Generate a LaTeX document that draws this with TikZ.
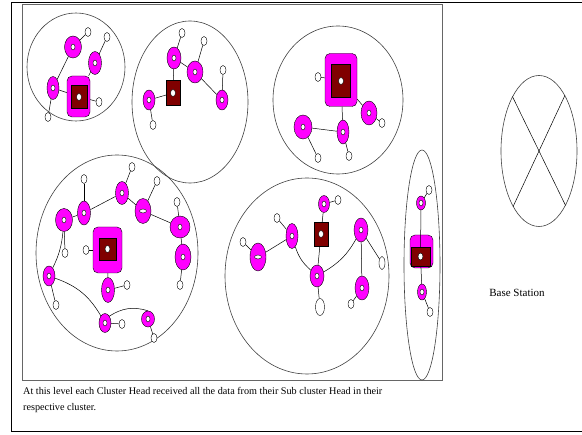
\documentclass[tikz,border=0pt]{standalone}
\usepackage{fontspec}
\setmainfont{Liberation Serif}
\usetikzlibrary{shapes.geometric}

\definecolor{chpink}{RGB}{255,0,255}
\definecolor{chred}{RGB}{128,0,0}

\tikzset{
  zone/.style={ellipse, draw=black!75, line width=0.6pt, inner sep=0pt},
  sensor/.style={ellipse, draw, fill=white, line width=0.4pt, inner sep=0pt, minimum width=6pt, minimum height=9pt},
  sub/.style 2 args={ellipse, draw, fill=chpink, line width=0.4pt, inner sep=0pt,
    minimum width=#1pt, minimum height=#2pt,
    path picture={\draw[fill=white] (path picture bounding box.center) ellipse (2pt and 3pt);}},
  subh/.style 2 args={ellipse, draw, fill=chpink, line width=0.4pt, inner sep=0pt,
    minimum width=#1pt, minimum height=#2pt,
    path picture={\draw[fill=white] (path picture bounding box.center) ellipse (3.5pt and 2pt);}},
  pad/.style 2 args={rectangle, rounded corners=5pt, draw, fill=chpink, line width=0.4pt, inner sep=0pt,
    minimum width=#1pt, minimum height=#2pt},
  core/.style 2 args={rectangle, draw, fill=chred, line width=0.4pt, inner sep=0pt,
    minimum width=#1pt, minimum height=#2pt,
    path picture={\draw[fill=white] (path picture bounding box.center) ellipse (2.5pt and 3.5pt);}},
  link/.style={draw, line width=0.5pt},
}

\begin{document}
\begin{tikzpicture}[x=1pt, y=-1pt]
   \useasboundingbox (0,0) rectangle (582,435);

   % frames
   \draw[line width=1pt] (582,3) -- (11,3) -- (11,432) -- (582,432);
   \draw[black!60, line width=1pt] (22,5) rectangle (442,381);

   % cluster 1
   \node[zone, minimum width=98pt, minimum height=108pt] (z1) at (76,67) {};
   \node[pad={23}{41}] (ch1) at (78.5,96.5) {};
   \node[sub={17}{22}] (c1a) at (73,47) {};
   \node[sub={13}{23}] (c1b) at (95,63) {};
   \node[sub={12}{23}] (c1c) at (53,88) {};
   \node[sensor] (s1a) at (88,32) {};
   \node[sensor] (s1b) at (107,37) {};
   \node[sensor] (s1c) at (99,102) {};
   \node[sensor] (s1d) at (48,117) {};
   \path[link] (c1a) edge (s1a) (c1a) edge (c1c) (c1b) edge (s1b) (c1b) edge (ch1)
               (c1c) edge (ch1) (c1c) edge (s1d) (ch1) edge (s1c);
   \node[core={16}{23}] (ch1c) at (79,97) {};

   % cluster 2
   \node[zone, minimum width=116pt, minimum height=162pt] (z2) at (190,102) {};
   \node[core={14}{25}] (ch2) at (173,93) {};
   \node[sub={14}{22}] (c2a) at (174,58) {};
   \node[sub={16}{22}] (c2b) at (195,72) {};
   \node[sub={12}{20}] (c2c) at (149,100) {};
   \node[sub={12}{20}] (c2d) at (222,100) {};
   \node[sensor] (s2a) at (182,33) {};
   \node[sensor] (s2b) at (204,41) {};
   \node[sensor] (s2c) at (223,70) {};
   \node[sensor] (s2d) at (153,125) {};
   \path[link] (c2a) edge (s2a) (c2a) edge (ch2) (c2a) edge (c2b) (c2b) edge (s2b)
               (c2b) edge (c2d) (c2c) edge (ch2) (c2c) edge (s2d) (c2d) edge (s2c);

   % cluster 3
   \node[zone, minimum width=130pt, minimum height=148pt] (z3) at (338,100) {};
   \node[pad={32}{53}] (ch3) at (341,80) {};
   \node[sub={16}{24}] (c3a) at (369,113) {};
   \node[sub={18}{24}] (c3b) at (303,127) {};
   \node[sub={12}{24}] (c3c) at (343,132) {};
   \node[sensor] (s3a) at (318,77) {};
   \node[sensor] (s3b) at (382,123) {};
   \node[sensor] (s3c) at (318,158) {};
   \node[sensor] (s3d) at (349,156) {};
   \path[link] (ch3) edge (s3a) (ch3) edge (c3c) (ch3) edge (c3a) (c3a) edge (s3b)
               (c3b) edge (c3c) (c3b) edge (s3c) (c3c) edge (s3d);
   \node[core={19}{33}] (ch3c) at (341,81) {};

   % cluster 4
   \node[zone, minimum width=162pt, minimum height=196pt] (z4) at (117,253) {};
   \node[pad={29}{46}] (ch4) at (107.5,250) {};
   \node[sub={17}{23}] (c4a) at (64,220) {};
   \node[sub={13}{24}] (c4b) at (84,213) {};
   \node[sub={13}{23}] (c4c) at (122,193) {};
   \node[subh={16}{25}] (c4d) at (143,211) {};
   \node[sub={20}{22}] (c4e) at (180,227) {};
   \node[sub={16}{26}] (c4f) at (183,257) {};
   \node[sub={12}{20}] (c4g) at (49,276) {};
   \node[sub={13}{25}] (c4h) at (108,290) {};
   \node[sub={12}{19}] (c4i) at (105,323) {};
   \node[sub={13}{16}] (c4j) at (148,319) {};
   \node[sensor] (s4a) at (84,179) {};
   \node[sensor] (s4b) at (132,167) {};
   \node[sensor] (s4c) at (157,181) {};
   \node[sensor] (s4d) at (177,202) {};
   \node[sensor] (s4e) at (65,253) {};
   \node[sensor] (s4f) at (86,250) {};
   \node[sensor] (s4g) at (127,285) {};
   \node[sensor] (s4h) at (180,285) {};
   \node[sensor] (s4i) at (56,305) {};
   \node[sensor] (s4j) at (122,324) {};
   \node[sensor] (s4k) at (154,338) {};
   \path[link] (c4a) edge (c4b) (c4b) edge (s4a) (c4b) edge (c4c) (c4c) edge (s4b)
               (c4c) edge (c4d) (c4d) edge (s4c) (c4d) edge (c4e) (c4e) edge (s4d)
               (c4e) edge (c4f) (c4f) edge (s4h) (c4a) edge (s4e)
               (c4a) edge[bend left=10] (c4g) (c4g) edge (s4i)
               (c4g) edge[bend left=20] (c4i) (ch4) edge (s4f) (ch4) edge (c4h)
               (c4h) edge (s4g) (c4i.north east) edge[bend left=25] (c4j.north) (c4i) edge (s4j)
               (c4j) edge (s4k);
   \node[core={17}{22}] (ch4c) at (107.5,249) {};

   % cluster 5
   \node[zone, minimum width=164pt, minimum height=196pt] (z5) at (307,276) {};
   \node[core={14}{24}] (ch5) at (321,234) {};
   \node[subh={16}{28}] (c5a) at (258,257) {};
   \node[sub={12}{25}] (c5b) at (292,236) {};
   \node[sub={11}{17}] (c5c) at (324,204) {};
   \node[sub={14}{22}] (c5d) at (317,276) {};
   \node[sub={14}{24}] (c5e) at (361,230) {};
   \node[sub={14}{24}] (c5f) at (362,288) {};
   \node[sensor] (s5a) at (338,200) {};
   \node[sensor] (s5b) at (277,218) {};
   \node[sensor] (s5c) at (243,242) {};
   \node[sensor, minimum width=9pt, minimum height=17pt] (s5d) at (320,307) {};
   \node[sensor, minimum height=13pt] (s5e) at (382,263) {};
   \node[sensor] (s5f) at (351,304) {};
   \path[link] (c5a) edge (c5b) (c5a) edge (s5c) (c5b) edge (s5b)
               (c5b) edge[bend right=15] (c5d) (c5c) edge (s5a) (c5c) edge (ch5)
               (ch5) edge (c5d) (c5d) edge[bend right=15] (c5e) (c5e) edge (c5f)
               (c5e) edge (s5e) (c5f) edge (s5f) (c5d) edge (s5d);

   % cluster 6
   \node[zone, minimum width=36pt, minimum height=230pt] (z6) at (422,265) {};
   \node[pad={23}{33}] (ch6) at (421.5,251.5) {};
   \node[sub={9}{14}] (c6a) at (421,203) {};
   \node[sub={9}{16}] (c6b) at (422,292) {};
   \node[sensor] (s6a) at (429,190) {};
   \node[sensor] (s6b) at (430,312) {};
   \node[core={19}{19}] (ch6c) at (420.5,256.5) {};
   \path[link] (c6a) edge (ch6c) (ch6c) edge (c6b) (c6a) edge (s6a) (c6b) edge (s6b);

   % base station
   \node[ellipse, draw=black!75, line width=0.6pt, minimum width=76pt, minimum height=151pt] (bs) at (539,151) {};
   \path[link] (bs.65) edge (bs.245) (bs.116) edge (bs.296);
   \node[font=\fontsize{11}{13}\selectfont] (bslabel) at (517,293) {Base Station};

   % caption
   \node[anchor=base west, inner sep=0pt, font=\fontsize{10.2}{12}\selectfont] (cap1) at (23,395)
      {At this level each Cluster Head received all the data from their Sub cluster Head in their};
   \node[anchor=base west, inner sep=0pt, font=\fontsize{10.2}{12}\selectfont] (cap2) at (23,411)
      {respective cluster.};
\end{tikzpicture}
\end{document}
